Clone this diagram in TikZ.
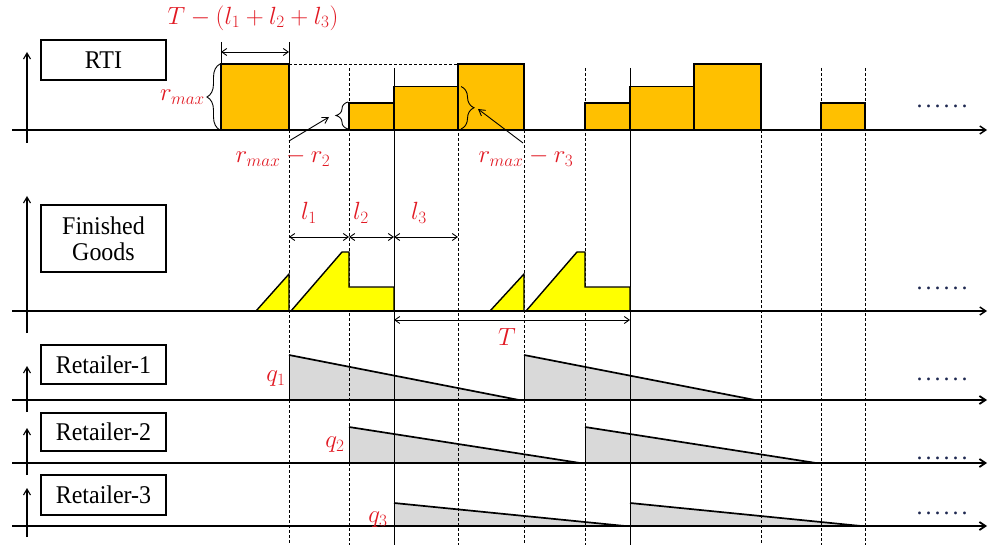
\documentclass[tikz,border=0pt]{standalone}
\usepackage{fontspec}
\setmainfont{Liberation Serif}
\newfontfamily\boxfont{Liberation Serif}[FakeStretch=0.94]
\usetikzlibrary{arrows.meta,decorations.pathreplacing}
\definecolor{rtiorange}{RGB}{255,192,0}
\definecolor{fgyellow}{RGB}{255,255,0}
\definecolor{retgrey}{RGB}{217,217,217}
\definecolor{lblred}{RGB}{225,25,35}
\definecolor{dotcol}{RGB}{30,40,80}
\newcommand{\moredotstext}{.\kern3pt.\kern3pt.\kern3pt.\kern3pt.\kern3pt.}
\begin{document}
\begin{tikzpicture}[x=1pt,y=-1pt,
  axis/.style={line width=1.4pt,-{Straight Barb[length=6pt,width=8pt]}},
  raxis/.style={line width=1.8pt,-{Straight Barb[length=6pt,width=8pt]}},
  vaxis/.style={line width=1.1pt,-{Straight Barb[length=6pt,width=7pt]}},
  guide/.style={line width=0.8pt,dash pattern=on 3pt off 2pt},
  guidesolid/.style={line width=0.9pt},
  lbox/.style={draw,line width=1.5pt,minimum width=125pt,inner sep=0pt,
    font=\boxfont\fontsize{25.5}{29}\selectfont,align=center},
  bar/.style={draw,line width=1.8pt,fill=rtiorange},
  fgshape/.style={draw,line width=1.4pt,fill=fgyellow,line join=miter},
  retfill/.style={fill=retgrey},
  slope/.style={line width=1.7pt},
  redlbl/.style={text=lblred,font=\fontsize{24.5}{28}\selectfont,inner sep=0pt},
  dimline/.style={line width=0.9pt,{Straight Barb[length=5pt,width=7pt]}-{Straight Barb[length=5pt,width=7pt]}},
  pointer/.style={line width=0.9pt,-{Straight Barb[length=6pt,width=7pt]}},
  bracel/.style={line width=0.9pt,decorate,decoration={brace,amplitude=13pt}},
  moredots/.style={font=\fontsize{24}{28}\selectfont,text=dotcol,inner sep=0pt,anchor=base}
]
\useasboundingbox (0,0) rectangle (990,545);

% label boxes
\node[lbox,minimum height=40pt] (rti) at (103.5,60) {RTI};
\node[lbox,minimum height=67pt] (fg) at (103.5,238.5) {Finished\\[-3pt]Goods};
\node[lbox,minimum height=39pt] (r1) at (103.5,364.5) {Retailer-1};
\node[lbox,minimum height=38pt] (r2) at (103.5,432) {Retailer-2};
\node[lbox,minimum height=40pt] (r3) at (103.5,495) {Retailer-3};

% retailer grey fills
\fill[retfill] (289,400) -- (289,355) -- (519,400) -- cycle;
\fill[retfill] (524,400) -- (524,355) -- (755,400) -- cycle;
\fill[retfill] (349,463) -- (349,427) -- (580,463) -- cycle;
\fill[retfill] (585,463) -- (585,427) -- (816,463) -- cycle;
\fill[retfill] (394,526) -- (394,503) -- (625,526) -- cycle;
\fill[retfill] (630,526) -- (630,503) -- (861,526) -- cycle;

% vertical guide lines
\foreach \xx in {349,458,585,821,865} \draw[guide] (\xx,68) -- (\xx,545);
\foreach \xx in {289,524,761} \draw[guide] (\xx,130) -- (\xx,545);
\foreach \xx in {394,630} \draw[guidesolid] (\xx,68) -- (\xx,545);
\draw[guidesolid] (221,42) -- (221,64);
\draw[guidesolid] (289,42) -- (289,64);
\draw[guide] (289,64) -- (458,64);

% retailer outlines
\foreach \xs/\xe/\yt/\yb in {289/519/355/400, 524/755/355/400, 349/580/427/463, 585/816/427/463, 394/625/503/526, 630/861/503/526}{
  \draw[line width=0.8pt] (\xs,\yb) -- (\xs,\yt);
  \draw[slope] (\xs,\yt) -- (\xe,\yb);
}

% RTI bars
\draw[bar] (221,64) rectangle (289,130);
\draw[bar] (349,103) rectangle (394,130);
\draw[bar] (394,86.5) rectangle (458,130);
\draw[bar] (458,64) rectangle (524,130);
\draw[bar] (585,103) rectangle (630,130);
\draw[bar] (630,86.5) rectangle (694,130);
\draw[bar] (694,64) rectangle (761,130);
\draw[bar] (821,103) rectangle (865,130);

% finished goods shapes
\draw[fgshape] (256,311) -- (289,274) -- (289,311) -- cycle;
\draw[fgshape] (291,311) -- (342,252) -- (349,252) -- (349,287) -- (394,287) -- (394,311) -- cycle;
\draw[fgshape] (490,311) -- (524,274) -- (524,311) -- cycle;
\draw[fgshape] (526,311) -- (577,252) -- (585,252) -- (585,287) -- (630,287) -- (630,311) -- cycle;

% axes
\draw[axis] (12,130) -- (987,130);
\draw[vaxis] (27,143) -- (27,52);
\draw[axis] (12,311) -- (987,311);
\draw[vaxis] (27,333) -- (27,196);
\draw[raxis] (12,400) -- (987,400);
\draw[vaxis] (27,412) -- (27,366);
\draw[raxis] (12,463) -- (987,463);
\draw[vaxis] (27,475) -- (27,428);
\draw[raxis] (12,526) -- (987,526);
\draw[vaxis] (27,537) -- (27,488);

% RTI annotations
\draw[dimline] (221,52) -- (289,52);
\node[redlbl] (tl) at (253,18) {$T-(l_1+l_2+l_3)$};
\draw[bracel] (220,130) -- (220,64);
\node[redlbl,anchor=east] (rmax) at (205,97) {$r_{max}$};
\draw[bracel,decoration={amplitude=12pt}] (348,129) -- (348,102);
\coordinate (b2tip) at (329,117);
\node[redlbl] (rm2) at (283,157) {$r_{max}-r_2$};
\draw[pointer] (289,141) -- (b2tip);
\draw[bracel] (461,86.5) -- (461,129);
\coordinate (b3tip) at (478,109);
\node[redlbl] (rm3) at (526,157) {$r_{max}-r_3$};
\draw[pointer] (523,143) -- (b3tip);

% finished goods annotations
\draw[dimline] (289,237) -- (349,237);
\draw[dimline] (349,237) -- (394,237);
\draw[dimline] (394,237) -- (458,237);
\node[redlbl] (l1) at (309,213) {$l_1$};
\node[redlbl] (l2) at (361,213) {$l_2$};
\node[redlbl] (l3) at (419,213) {$l_3$};
\draw[dimline] (394,320) -- (630,320);
\node[redlbl] (tt) at (507,337) {$T$};

% retailer labels
\node[redlbl] (q1) at (276,379) {$q_1$};
\node[redlbl] (q2) at (335,445) {$q_2$};
\node[redlbl] (q3) at (378,520) {$q_3$};

% continuation dots
\node[moredots] (d1) at (942,108) {\moredotstext};
\node[moredots] (d2) at (942,289) {\moredotstext};
\node[moredots] (d3) at (942,380) {\moredotstext};
\node[moredots] (d4) at (942,459) {\moredotstext};
\node[moredots] (d5) at (942,514) {\moredotstext};
\end{tikzpicture}
\end{document}
